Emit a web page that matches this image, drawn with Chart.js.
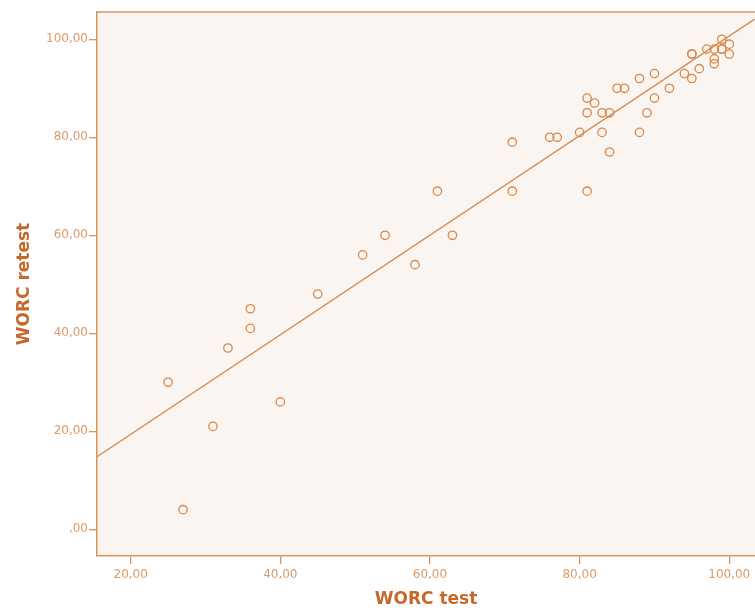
<!DOCTYPE html>
<html>
<head>
<meta charset="utf-8">
<script src="https://cdn.jsdelivr.net/npm/chart.js@4/dist/chart.umd.min.js"></script>
<style>
    html, body { margin: 0; padding: 0; background: #ffffff; }
    #wrap { width: 755px; height: 612px; }
</style>
</head>
<body>
<div id="wrap"><canvas id="worc-chart" width="755" height="612"></canvas></div>
<script>
// WORC test vs retest scores
const testScores = [25, 27, 31, 33, 36, 36, 40, 45, 51, 54, 58, 61, 63, 71, 71, 76, 77, 80,
    81, 81, 81, 82, 83, 83, 84, 84, 85, 86, 88, 88, 89, 90, 90, 92, 94, 95, 95, 95, 96,
    97, 98, 98, 98, 99, 99, 99, 100, 100];
const retestScores = [30, 4, 21, 37, 45, 41, 26, 48, 56, 60, 54, 69, 60, 79, 69, 80, 80, 81,
    69, 88, 85, 87, 85, 81, 85, 77, 90, 90, 92, 81, 85, 93, 88, 90, 93, 97, 97, 92, 94,
    98, 98, 96, 95, 100, 98, 98, 99, 97];

// fit line end points
const fitLineX = [15.5, 103.4];
const fitLineY = [14.8, 104.1];

// tick values
const xTicks = [20, 40, 60, 80, 100];
const yTicks = [0, 20, 40, 60, 80, 100];

const markColor = '#d8884a';
const axisColor = '#dc935a';
const tickColor = '#dc9a68';
const titleColor = '#c6682a';
const plotBg = '#faf5f0';

/**
 * Format ticks like SPSS (comma decimals)
 */
function formatTick(value) {
    if (value === 0) return ',00';
    return value.toFixed(2).replace('.', ',');
}

// plot background + top frame line
const plotFrame = {
    id: 'plotFrame',
    beforeDraw(chart) {
        const { ctx, chartArea } = chart;
        ctx.save();
        ctx.fillStyle = plotBg;
        ctx.fillRect(chartArea.left, chartArea.top, chartArea.right - chartArea.left, chartArea.bottom - chartArea.top);
        ctx.strokeStyle = axisColor;
        ctx.lineWidth = 1.5;
        ctx.beginPath();
        ctx.moveTo(chartArea.left, chartArea.top);
        ctx.lineTo(chartArea.right, chartArea.top);
        ctx.stroke();
        ctx.restore();
    }
};

const points = testScores.map((x, i) => ({ x: x, y: retestScores[i] }));
const fitLine = fitLineX.map((x, i) => ({ x: x, y: fitLineY[i] }));

const ctx = document.getElementById('worc-chart');

new Chart(ctx, {
    type: 'scatter',
    data: {
        datasets: [{
            label: 'WORC',
            data: points,
            pointStyle: 'circle',
            pointRadius: 4.2,
            pointBorderWidth: 1.3,
            borderColor: markColor,
            backgroundColor: 'rgba(0,0,0,0)'
        }, {
            type: 'line',
            label: 'Fit',
            data: fitLine,
            borderColor: markColor,
            borderWidth: 1.4,
            pointRadius: 0,
            fill: false
        }]
    },
    options: {
        responsive: false,
        animation: false,
        layout: {
            autoPadding: false,
            padding: { top: 12, right: 0, left: 0, bottom: 0 }
        },
        plugins: {
            legend: { display: false },
            tooltip: { enabled: false }
        },
        scales: {
            x: {
                type: 'linear',
                min: 15.5,
                max: 103.44,
                afterBuildTicks: function(scale) {
                    scale.ticks = xTicks.map(v => ({ value: v }));
                },
                afterFit: function(scale) {
                    scale.height = 56;
                    // keep the plot running to the right edge
                    scale.paddingRight = 0;
                    scale.paddingLeft = 0;
                },
                grid: {
                    drawOnChartArea: false,
                    drawTicks: true,
                    tickLength: 8,
                    color: axisColor,
                    lineWidth: 1.3
                },
                border: { color: axisColor, width: 1.5 },
                ticks: {
                    color: tickColor,
                    padding: 4,
                    maxRotation: 0,
                    font: { family: 'DejaVu Sans', size: 12 },
                    callback: formatTick
                },
                title: {
                    display: true,
                    text: 'WORC test',
                    color: titleColor,
                    padding: { top: 0, bottom: 2 },
                    font: { family: 'DejaVu Sans', size: 17, weight: 'bold' }
                }
            },
            y: {
                type: 'linear',
                min: -5.45,
                max: 105.57,
                afterBuildTicks: function(scale) {
                    scale.ticks = yTicks.map(v => ({ value: v }));
                },
                afterFit: function(scale) {
                    scale.width = 97;
                },
                grid: {
                    drawOnChartArea: false,
                    drawTicks: true,
                    tickLength: 8,
                    color: axisColor,
                    lineWidth: 1.3
                },
                border: { color: axisColor, width: 1.5 },
                ticks: {
                    color: tickColor,
                    padding: 1,
                    font: { family: 'DejaVu Sans', size: 12 },
                    callback: formatTick
                },
                title: {
                    display: true,
                    text: 'WORC retest',
                    color: titleColor,
                    padding: { top: 14, bottom: 0 },
                    font: { family: 'DejaVu Sans', size: 17, weight: 'bold' }
                }
            }
        }
    },
    plugins: [plotFrame]
});
</script>
</body>
</html>
